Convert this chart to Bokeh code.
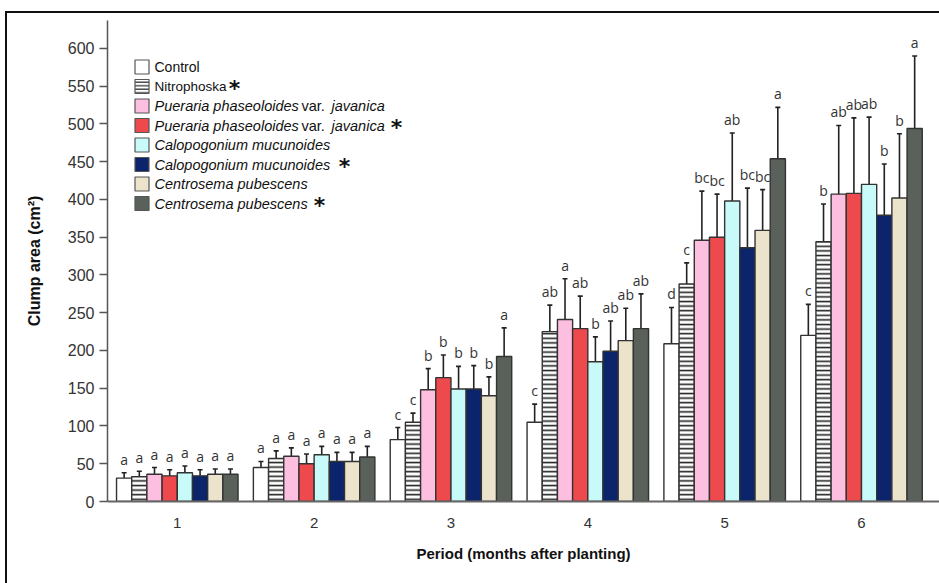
import numpy as np
from bokeh.plotting import figure
from bokeh.models import (ColumnDataSource, Whisker, TeeHead, FixedTicker, Range1d, Column)
from bokeh.core.properties import value
from bokeh.embed import file_html
from bokeh.resources import INLINE

# ---------------- data ----------------
periods = [1, 2, 3, 4, 5, 6]
period_labels = ["1", "2", "3", "4", "5", "6"]

control = [31, 45, 82, 105, 209, 220]
nitrophoska = [33, 57, 105, 225, 288, 344]
pueraria = [36, 60, 148, 241, 346, 407]
pueraria_s = [34, 50, 164, 229, 350, 408]
calopogonium = [38, 62, 149, 185, 398, 420]
calopogonium_s = [34, 53, 149, 199, 336, 379]
centrosema = [36, 53, 140, 213, 359, 402]
centrosema_s = [36, 59, 192, 229, 454, 494]

err_control = [7, 8, 16, 24, 48, 41]
err_nitrophoska = [7, 10, 12, 35, 28, 50]
err_pueraria = [9, 11, 28, 54, 65, 91]
err_pueraria_s = [8, 13, 30, 43, 57, 100]
err_calopogonium = [9, 11, 30, 33, 90, 89]
err_calopogonium_s = [8, 12, 31, 40, 79, 68]
err_centrosema = [7, 12, 25, 43, 54, 85]
err_centrosema_s = [7, 14, 38, 46, 68, 96]

let_control = ["a", "a", "c", "c", "d", "c"]
let_nitrophoska = ["a", "a", "c", "ab", "c", "b"]
let_pueraria = ["a", "a", "b", "a", "bc", "ab"]
let_pueraria_s = ["a", "a", "b", "ab", "bc", "ab"]
let_calopogonium = ["a", "a", "b", "b", "ab", "ab"]
let_calopogonium_s = ["a", "a", "b", "ab", "bc", "b"]
let_centrosema = ["a", "a", "b", "ab", "bc", "b"]
let_centrosema_s = ["a", "a", "a", "ab", "a", "a"]

y_ticks = [0, 50, 100, 150, 200, 250, 300, 350, 400, 450, 500, 550, 600]

series = [
    (control, err_control, let_control, "#FFFFFF", None),
    (nitrophoska, err_nitrophoska, let_nitrophoska, "#FFFFFF", "-"),
    (pueraria, err_pueraria, let_pueraria, "#FDBFDF", None),
    (pueraria_s, err_pueraria_s, let_pueraria_s, "#EE4A4E", None),
    (calopogonium, err_calopogonium, let_calopogonium, "#C8FAFA", None),
    (calopogonium_s, err_calopogonium_s, let_calopogonium_s, "#0B246C", None),
    (centrosema, err_centrosema, let_centrosema, "#EBE3CC", None),
    (centrosema_s, err_centrosema_s, let_centrosema_s, "#59615A", None),
]

# ---------------- figure ----------------
OX, OY = 7, 13          # page offset of the canvas (inside the outer frame)
W, H = 932, 570
X0 = 0.49
X1 = 0.49 + 6.08 * (W - (107 - OX)) / 832.0
Y1 = 637
BL, BB, BT, BR = 107 - OX, 82, 20 - OY, 0

p = figure(width=W, height=H, output_backend="svg", toolbar_location=None,
           x_range=Range1d(X0, X1), y_range=Range1d(0, Y1),
           min_border_left=BL, min_border_bottom=BB, min_border_top=BT,
           min_border_right=BR, background_fill_color="white",
           border_fill_color="white")
p.outline_line_color = None
p.grid.visible = False

FW = W - BL - BR
FH = H - BB - BT
def px2x(px):
    return X0 + (px - OX - BL) * (X1 - X0) / FW
def px2y(py):
    return (H - BB - (py - OY)) * Y1 / FH

bar_w = 0.111
for i, (vals, errs, lets, col, hatch) in enumerate(series):
    xs = np.array(periods, dtype=float) + (i - 3.5) * bar_w
    v = np.array(vals, dtype=float)
    e = np.array(errs, dtype=float)
    src = ColumnDataSource(dict(x=xs, top=v, upper=v + e, lower=v - e, lab=lets))
    kw = {}
    if hatch:
        kw = dict(hatch_pattern=hatch, hatch_color="#222222", hatch_scale=4.6,
                  hatch_weight=1.6)
    p.vbar(x="x", top="top", width=bar_w, source=src, fill_color=col,
           line_color="#333333", line_width=1.4, **kw)
    wh = Whisker(base="x", upper="upper", lower="lower", source=src,
                 line_color="#222222", line_width=1.6,
                 upper_head=TeeHead(size=5, line_color="#222222", line_width=1.6),
                 lower_head=TeeHead(size=5, line_color="#222222", line_width=1.6))
    p.add_layout(wh)
    p.text(x="x", y="upper", text="lab", source=src, text_align="center",
           text_baseline="bottom", y_offset=-4, text_font=value("Open Sans"),
           text_font_size="14px", text_color="#333333")

# ---------------- axes ----------------
p.xaxis.ticker = FixedTicker(ticks=periods)
p.xaxis.major_label_overrides = {pp: l for pp, l in zip(periods, period_labels)}
p.xaxis.major_tick_line_color = None
p.xaxis.minor_tick_line_color = None
p.xaxis.axis_line_color = "#666666"
p.xaxis.axis_line_width = 2
p.xaxis.major_label_text_font = "Liberation Sans"
p.xaxis.major_label_text_font_size = "15px"
p.xaxis.major_label_text_color = "#333333"
p.xaxis.major_label_standoff = 10
p.xaxis.axis_label = "Period (months after planting)"
p.xaxis.axis_label_text_font = "Liberation Sans"
p.xaxis.axis_label_text_font_style = "bold"
p.xaxis.axis_label_text_font_size = "15px"
p.xaxis.axis_label_text_color = "#111111"
p.xaxis.axis_label_standoff = 14

p.yaxis.ticker = FixedTicker(ticks=y_ticks)
p.yaxis.minor_tick_line_color = None
p.yaxis.major_tick_out = 8
p.yaxis.major_tick_in = 0
p.yaxis.major_tick_line_color = "#555555"
p.yaxis.major_tick_line_width = 1.3
p.yaxis.axis_line_color = "#555555"
p.yaxis.axis_line_width = 1.5
p.yaxis.major_label_text_font = "Liberation Sans"
p.yaxis.major_label_text_font_size = "16px"
p.yaxis.major_label_text_color = "#333333"
p.yaxis.major_label_standoff = 5
p.yaxis.axis_label = "Clump area (cm\u00b2)"
p.yaxis.axis_label_text_font = "Liberation Sans"
p.yaxis.axis_label_text_font_style = "bold"
p.yaxis.axis_label_text_font_size = "16px"
p.yaxis.axis_label_text_color = "#111111"
p.yaxis.axis_label_standoff = 22

# ---------------- legend (custom, mixed italic) ----------------
row0, step = 66.5, 19.5
sw_x = 141.5
txt_x = 154
rows = [
    [("Control", "normal", txt_x, "14px")],
    [("Nitrophoska", "normal", txt_x, "13.5px"), ("*", "bold", 234, None)],
    [("Pueraria phaseoloides", "italic", txt_x, "14.5px"), ("var.", "normal", 301, "14.5px"),
     ("javanica", "italic", 331, "14.5px")],
    [("Pueraria phaseoloides", "italic", txt_x, "14.5px"), ("var.", "normal", 301, "14.5px"),
     ("javanica", "italic", 331, "14.5px"), ("*", "bold", 396, None)],
    [("Calopogonium mucunoides", "italic", txt_x, "14.5px")],
    [("Calopogonium mucunoides", "italic", txt_x, "14.5px"), ("*", "bold", 344, None)],
    [("Centrosema pubescens", "italic", txt_x, "14.5px")],
    [("Centrosema pubescens", "italic", txt_x, "14.5px"), ("*", "bold", 319, None)],
]
for i, (vals, errs, lets, col, hatch) in enumerate(series):
    yy = row0 + i * step
    kw = {}
    if hatch:
        kw = dict(hatch_pattern=hatch, hatch_color="#333333", hatch_scale=3.5,
                  hatch_weight=1.3)
    p.scatter(x=[px2x(sw_x)], y=[px2y(yy)], marker="square", size=14,
              fill_color=col, line_color="#555555", line_width=1.2, **kw)
    for (t, style, xp, fs) in rows[i]:
        if t == "*":
            p.text(x=[px2x(xp)], y=[px2y(yy)], text=[t], text_baseline="middle",
                   text_align="center", y_offset=2, text_font=value("DejaVu Sans"),
                   text_font_style="bold", text_font_size="22px",
                   text_color="#111111")
        else:
            p.text(x=[px2x(xp)], y=[px2y(yy)], text=[t], text_baseline="middle",
                   text_font=value("Liberation Sans"), text_font_style=style,
                   text_font_size=fs, text_color="#111111")

# outer frame of the figure (left and top edges only, as in the reference)
page = Column(children=[p], margin=(11, 0, 0, 5),
              styles={"border-left": "2px solid #111111",
                      "border-top": "2px solid #111111"})

open("out.html", "w").write(file_html(page, INLINE))
